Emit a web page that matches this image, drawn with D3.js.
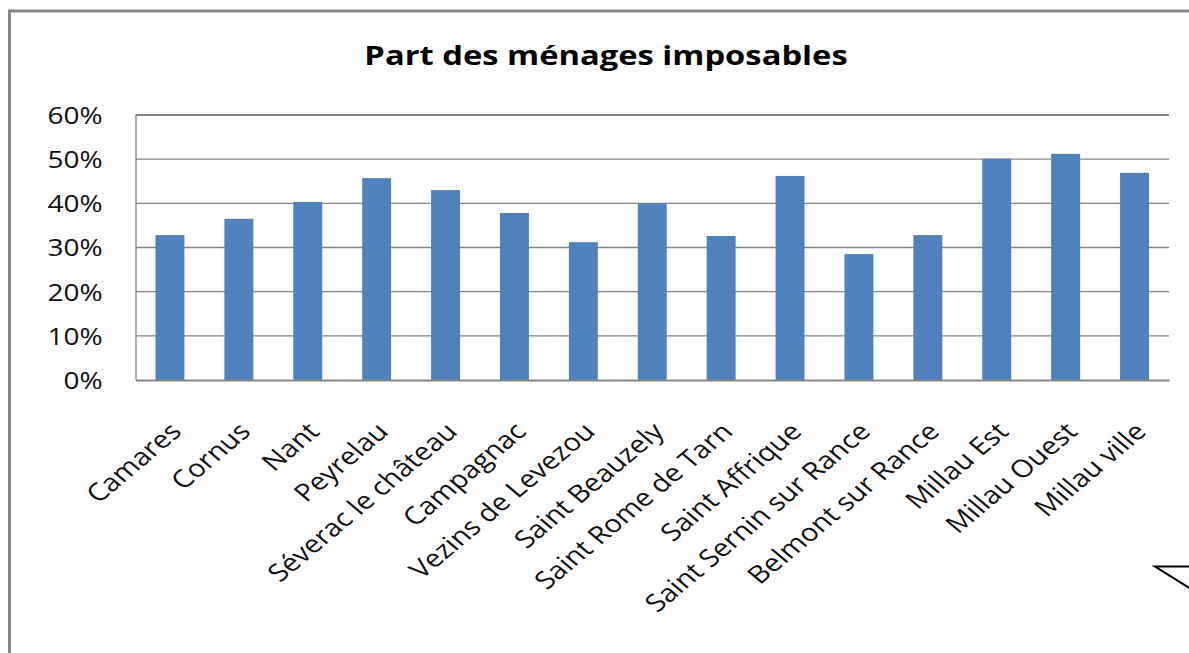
<!DOCTYPE html>
<html>
<head>
<meta charset="utf-8">
<script src="https://cdn.jsdelivr.net/npm/d3@7"></script>
<style>
  body { margin:0; background:#fff; }
  svg { display:block; }
</style>
</head>
<body>
<div id="chart"></div>
<script>
// data
const communes = ["Camares","Cornus","Nant","Peyrelau","Séverac le château","Campagnac",
  "Vezins de Levezou","Saint Beauzely","Saint Rome de Tarn","Saint Affrique",
  "Saint Sernin sur Rance","Belmont sur Rance","Millau Est","Millau Ouest","Millau ville"];
const partImposables = [0.328,0.365,0.403,0.457,0.430,0.378,0.312,0.400,0.326,0.462,0.285,0.328,0.501,0.512,0.469];
const yTicks = [0,0.1,0.2,0.3,0.4,0.5,0.6];
const titre = "Part des ménages imposables";

const W = 1189, H = 653;
const plot = {x1:135.5, x2:1169, y1:115, y2:380};
const fontFamily = "'Open Sans', 'Noto Sans', sans-serif";
// the source picture is stretched sideways, text included
const stretch = 1.19;

const svg = d3.select("#chart").append("svg")
  .attr("width", W).attr("height", H)
  .attr("viewBox", "0 0 "+W+" "+H);

// outer frame (runs off the right / bottom edge)
svg.append("rect")
  .attr("x", 9.5).attr("y", 11)
  .attr("width", W+20).attr("height", H+20)
  .attr("fill", "none").attr("stroke", "#878787").attr("stroke-width", 3);

const x = d3.scaleBand().domain(communes).range([plot.x1, plot.x2]).paddingInner(0.58).paddingOuter(0.29);
const y = d3.scaleLinear().domain([0, 0.6]).range([plot.y2, plot.y1]);

// gridlines
svg.append("g").selectAll("line").data(yTicks.filter(d => d > 0)).join("line")
  .attr("x1", plot.x1).attr("x2", plot.x2)
  .attr("y1", d => y(d)).attr("y2", d => y(d))
  .attr("stroke", "#868686")
  .attr("stroke-width", d => d === 0.6 ? 2 : 1.3);

// bars
svg.append("g").selectAll("rect").data(partImposables).join("rect")
  .attr("x", (d,i) => x(communes[i]))
  .attr("width", x.bandwidth())
  .attr("y", d => y(d))
  .attr("height", d => y(0) - y(d))
  .attr("fill", "#4F81BD");

// y axis
const yAxis = d3.axisLeft(y).tickValues(yTicks).tickSize(0)
  .tickFormat(d3.format(".0%"));
const gy = svg.append("g").attr("transform", "translate("+plot.x1+",0)").call(yAxis);
gy.select(".domain").attr("stroke", "#868686").attr("stroke-width", 1.3);
gy.selectAll("text")
  .attr("font-family", fontFamily).attr("font-size", 23.5).attr("fill", "#111")
  .attr("x", 0).attr("dy", "0.36em")
  .attr("transform", "translate(-33,0) scale("+stretch+",1)");

// x axis
const xAxis = d3.axisBottom(x).tickSize(0).tickPadding(0);
const gx = svg.append("g").attr("transform", "translate(0,"+plot.y2+")").call(xAxis);
gx.select(".domain").attr("stroke", "#868686").attr("stroke-width", 2);
gx.selectAll("text")
  .attr("font-family", fontFamily).attr("font-size", 24.5).attr("fill", "#111")
  .attr("text-anchor", "end")
  .attr("dy", "0.35em")
  .attr("y", 0).attr("x", 0)
  .attr("transform", "translate(6,47) scale("+stretch+",1) rotate(-45)");

// title
svg.append("text")
  .attr("x", 0).attr("y", 0)
  .attr("transform", "translate(606,65) scale(1.19,1)")
  .attr("text-anchor", "middle")
  .attr("font-family", fontFamily).attr("font-weight", "bold").attr("font-size", 27.5)
  .attr("fill", "#000")
  .text(titre);

// stray shape at the bottom right corner
svg.append("path")
  .attr("d", "M "+(W+2)+" 566.5 L 1155 566.5 L "+(W+2)+" 589")
  .attr("fill", "none").attr("stroke", "#000").attr("stroke-width", 2);
</script>
</body>
</html>
